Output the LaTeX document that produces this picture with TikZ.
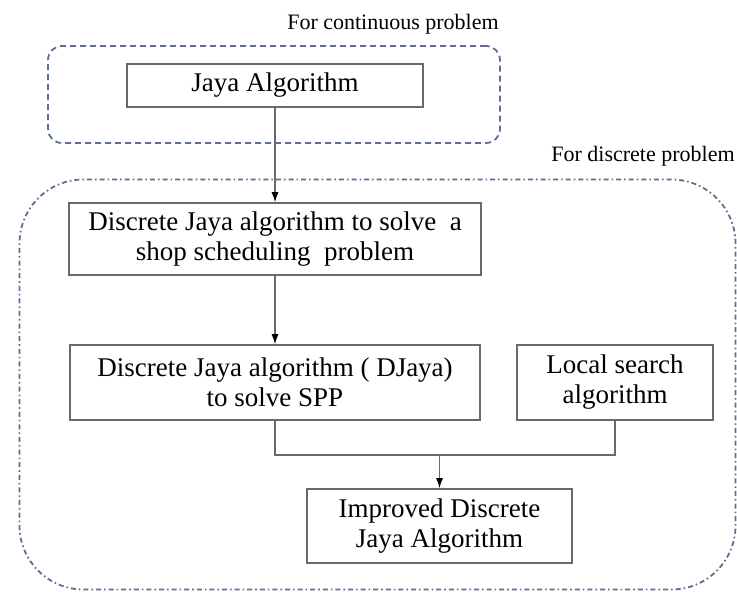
\documentclass[tikz,border=0pt]{standalone}
\usepackage{fontspec}
\setmainfont{Liberation Serif}
\usetikzlibrary{arrows.meta,positioning}
\definecolor{boxline}{RGB}{105,105,105}
\definecolor{frameblue}{RGB}{92,110,148}
\begin{document}
\begin{tikzpicture}[x=0.5pt,y=-0.5pt,
    block/.style={draw=boxline,line width=0.8pt,align=center,inner sep=2pt,
        font=\fontsize{13.5}{15}\selectfont},
    frame/.style={draw=frameblue,line width=0.9pt,inner sep=0pt},
    tag/.style={font=\fontsize{11}{13}\selectfont,inner sep=0pt},
    link/.style={draw=boxline,line width=0.6pt},
    >={Latex[length=5pt,width=3.5pt,black]}]
    \useasboundingbox (0,0) rectangle (737,592);
    % frames
    \node[frame,dashed,dash pattern=on 3pt off 2pt,rounded corners=7pt,
        minimum width=226pt,minimum height=48.5pt] (contframe) at (274,94.5) {};
    \node[frame,dash pattern=on 2.5pt off 1.5pt on 0.8pt off 1.5pt,rounded corners=32pt,
        minimum width=358pt,minimum height=205pt] (discframe) at (377.5,384.5) {};
    \node[tag] (conttag) at (393,24) {For continuous problem};
    \node[tag] (disctag) at (643,156) {For discrete problem};
    % blocks
    \node[block,minimum width=148pt,minimum height=21.5pt] (jaya) at (275,85.5) {Jaya Algorithm};
    \node[block,minimum width=206pt,minimum height=36pt] (dshop) at (275,239)
        {Discrete Jaya algorithm to solve\ \ a\\ shop scheduling\ \ problem};
    \node[block,minimum width=205pt,minimum height=37.5pt] (djaya) at (275,382.5)
        {Discrete Jaya algorithm ( DJaya)\\ to solve SPP};
    \node[block,minimum width=98pt,minimum height=37.5pt] (lsearch) at (615,382.5)
        {Local search\\ algorithm};
    \node[block,minimum width=132.5pt,minimum height=37pt] (idjaya) at (439.5,526)
        {Improved Discrete\\ Jaya Algorithm};
    \coordinate (join) at (439.5,455);
    % connectors
    \draw[link,->] (jaya) -- (dshop);
    \draw[link,->] (dshop) -- (djaya);
    \draw[link] (djaya.south) |- (join) -| (lsearch.south);
    \draw[link,->] (join) -- (idjaya);
\end{tikzpicture}
\end{document}
